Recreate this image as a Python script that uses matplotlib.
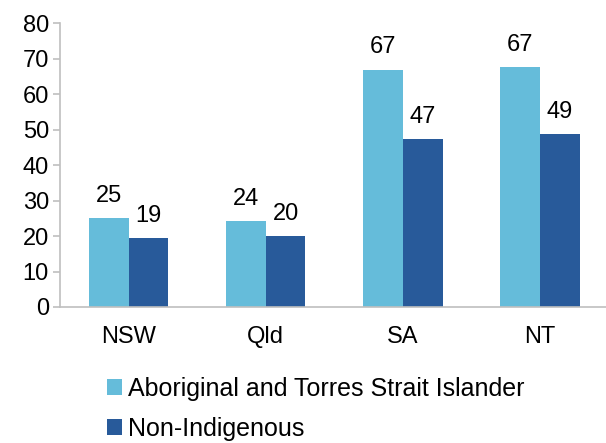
import matplotlib.pyplot as plt
import numpy as np

plt.rcParams['font.family'] = ['Liberation Sans', 'DejaVu Sans']

estados = ["NSW", "Qld", "SA", "NT"]
indigenas = [25.0, 24.3, 66.9, 67.5]
no_indigenas = [19.3, 19.9, 47.3, 48.8]
etiquetas_ind = ["25", "24", "67", "67"]
etiquetas_no = ["19", "20", "47", "49"]
series = ["Aboriginal and Torres Strait Islander", "Non-Indigenous"]

color_claro = "#65BCDA"
color_oscuro = "#285A9A"
gris = "#BFBFBF"
tam = 17

fig = plt.figure(figsize=(6.06, 4.43), dpi=100)
ax = fig.add_axes([0.099, 0.307, 0.905, 0.641])

x = np.arange(len(estados))
ancho = 0.29
b1 = ax.bar(x - ancho / 2, indigenas, ancho, color=color_claro, label=series[0])
b2 = ax.bar(x + ancho / 2, no_indigenas, ancho, color=color_oscuro, label=series[1])

for barras, etiquetas in [(b1, etiquetas_ind), (b2, etiquetas_no)]:
    for barra, txt in zip(barras, etiquetas):
        ax.annotate(txt, (barra.get_x() + barra.get_width() / 2, barra.get_height()),
                    xytext=(0, 8), textcoords="offset points",
                    ha="center", va="bottom", fontsize=tam)

ax.set_xlim(-0.5, 3.5)
ax.set_ylim(0, 80)
ax.set_yticks(range(0, 81, 10))
ax.set_xticks(x)
ax.set_xticklabels(estados)
ax.tick_params(axis="y", labelsize=tam, length=5, color=gris, width=1.2, pad=3)
ax.tick_params(axis="x", labelsize=tam, length=0, pad=14)

for lado in ["top", "right"]:
    ax.spines[lado].set_visible(False)
for lado in ["left", "bottom"]:
    ax.spines[lado].set_color(gris)
    ax.spines[lado].set_linewidth(1.2)

fig.legend(handles=[b1, b2], labels=series, loc="upper left",
           bbox_to_anchor=(0.176, 0.15), frameon=False, fontsize=18,
           handlelength=0.6, handleheight=0.6, handletextpad=0.25,
           labelspacing=0.65, borderaxespad=0, borderpad=0)

fig.savefig("out.png", dpi=100)
